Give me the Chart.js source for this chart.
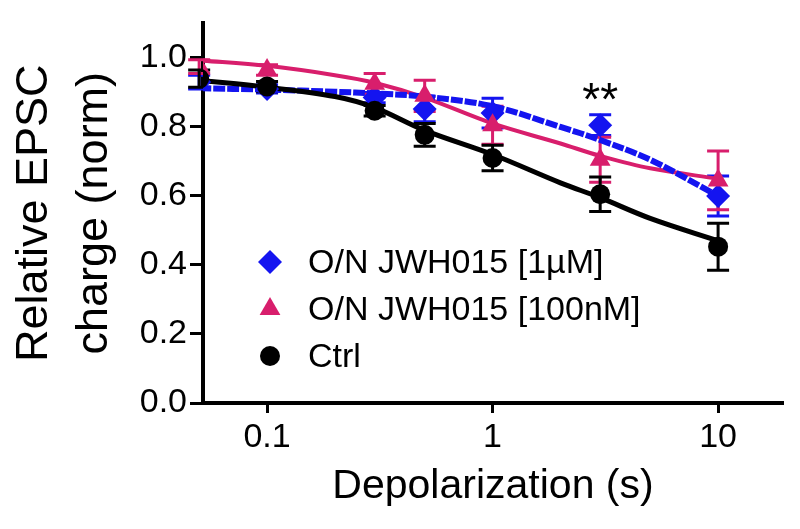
<!DOCTYPE html>
<html>
<head>
<meta charset="utf-8">
<script src="https://cdn.jsdelivr.net/npm/chart.js@4.4.1/dist/chart.umd.min.js"></script>
<style>
  html, body { margin: 0; padding: 0; background: #fff; }
  #wrap { width: 800px; height: 529px; }
</style>
</head>
<body>
<div id="wrap"><canvas id="chart"></canvas></div>
<script>
// depolarization steps (s)
const depolTimes = [0.05, 0.1, 0.3, 0.5, 1, 3, 10];

// mean +/- error
const jwh1uM = [0.93, 0.91, 0.885, 0.852, 0.84, 0.805, 0.60];
const jwh1uMErr = [0.02, 0.012, 0.015, 0.037, 0.043, 0.03, 0.058];
const jwh100nM = [0.975, 0.965, 0.925, 0.89, 0.805, 0.705, 0.645];
const jwh100nMErr = [0.02, 0.015, 0.03, 0.045, 0.055, 0.065, 0.085];
const ctrl = [0.94, 0.917, 0.847, 0.777, 0.71, 0.605, 0.453];
const ctrlErr = [0.025, 0.015, 0.015, 0.033, 0.037, 0.05, 0.068];

// fitted curves, sampled from the figure
const curveX = [0.05, 0.1, 0.2, 0.3, 0.5, 1, 2, 3, 5, 10];
const fit1uM = [0.912, 0.908, 0.902, 0.897, 0.888, 0.86, 0.80, 0.762, 0.705, 0.60];
const fit100nM = [0.993, 0.977, 0.95, 0.928, 0.885, 0.81, 0.752, 0.716, 0.68, 0.65];
const fitCtrl = [0.935, 0.915, 0.888, 0.856, 0.79, 0.72, 0.638, 0.595, 0.535, 0.47];

const xTicks = [0.1, 1, 10];
const yTicks = [0, 0.2, 0.4, 0.6, 0.8, 1.0];

const legendLabels = ['O/N JWH015 [1µM]', 'O/N JWH015 [100nM]', 'Ctrl'];
const sigMark = { x: 3, y: 0.9, text: '**' };

const BLUE = '#1414f0';
const MAGENTA = '#d81e6c';
const BLACK = '#000000';
const FONT = 'Liberation Sans, Arial, sans-serif';

const pts = (xs, ys) => xs.map((x, i) => ({ x: x, y: ys[i] }));

function pointSet(label, ys, errs, color, style, radius, order) {
    return {
        type: 'scatter',
        label: label,
        data: pts(depolTimes, ys),
        errors: errs,
        backgroundColor: color,
        borderColor: color,
        borderWidth: 0,
        pointStyle: style,
        pointRadius: radius,
        order: order
    };
}

function curveSet(ys, color, width, dash, order) {
    return {
        type: 'line',
        data: pts(curveX, ys),
        borderColor: color,
        borderWidth: width,
        borderDash: dash,
        pointRadius: 0,
        showLine: true,
        fill: false,
        tension: 0.35,
        order: order
    };
}

const errorBars = {
    id: 'errorBars',
    beforeDatasetsDraw(chart) {
        const ctx = chart.ctx;
        const xs = chart.scales.x, ys = chart.scales.y;
        ctx.save();
        chart.data.datasets.forEach(ds => {
            if (!ds.errors) return;
            ctx.strokeStyle = ds.borderColor;
            ctx.lineWidth = 3;
            ds.data.forEach((p, i) => {
                const px = xs.getPixelForValue(p.x);
                const top = ys.getPixelForValue(p.y + ds.errors[i]);
                const bot = ys.getPixelForValue(p.y - ds.errors[i]);
                ctx.beginPath();
                ctx.moveTo(px, top); ctx.lineTo(px, bot);
                ctx.moveTo(px - 11, top); ctx.lineTo(px + 11, top);
                ctx.moveTo(px - 11, bot); ctx.lineTo(px + 11, bot);
                ctx.stroke();
            });
        });
        ctx.restore();
    }
};

const overlay = {
    id: 'overlay',
    afterDraw(chart) {
        const ctx = chart.ctx;
        const xs = chart.scales.x, ys = chart.scales.y;
        ctx.save();
        // significance mark
        ctx.fillStyle = BLACK;
        ctx.font = '46px ' + FONT;
        ctx.textAlign = 'center';
        ctx.textBaseline = 'middle';
        ctx.fillText(sigMark.text, xs.getPixelForValue(sigMark.x), ys.getPixelForValue(sigMark.y) + 10);

        // legend inside the plot
        const markers = [
            { style: 'rectRot', color: BLUE, r: 12 },
            { style: 'triangle', color: MAGENTA, r: 12 },
            { style: 'circle', color: BLACK, r: 10 }
        ];
        ctx.font = '34px ' + FONT;
        ctx.textAlign = 'left';
        legendLabels.forEach((txt, i) => {
            const y = 262 + i * 47;
            ctx.fillStyle = markers[i].color;
            Chart.helpers.drawPoint(ctx, { pointStyle: markers[i].style, radius: markers[i].r, rotation: 0, borderWidth: 0 }, 270, y);
            ctx.fillStyle = BLACK;
            ctx.fillText(txt, 308, y + 2);
        });
        ctx.restore();
    }
};

new Chart(document.getElementById('chart'), {
    type: 'scatter',
    data: {
        datasets: [
            pointSet(legendLabels[0], jwh1uM, jwh1uMErr, BLUE, 'rectRot', 12, 3),
            pointSet(legendLabels[1], jwh100nM, jwh100nMErr, MAGENTA, 'triangle', 12, 2),
            pointSet(legendLabels[2], ctrl, ctrlErr, BLACK, 'circle', 10, 1),
            curveSet(fit100nM, MAGENTA, 4, [], 12),
            curveSet(fit1uM, BLUE, 6, [12, 2], 11),
            curveSet(fitCtrl, BLACK, 5, [], 10)
        ]
    },
    options: {
        responsive: true,
        maintainAspectRatio: false,
        animation: false,
        layout: { padding: { top: 15, right: 17, left: 0, bottom: 0 } },
        plugins: {
            legend: { display: false },
            tooltip: { enabled: false }
        },
        scales: {
            x: {
                type: 'logarithmic',
                min: 0.052,
                max: 19.4,
                afterBuildTicks: scale => { scale.ticks = xTicks.map(v => ({ value: v })); },
                afterFit: scale => { scale.height = 126; },
                ticks: {
                    color: BLACK,
                    font: { family: FONT, size: 34 },
                    padding: 4,
                    maxRotation: 0,
                    autoSkip: false,
                    callback: v => String(v)
                },
                grid: { drawOnChartArea: false, drawTicks: true, tickLength: 10, tickWidth: 3, tickColor: BLACK },
                border: { display: true, width: 4, color: BLACK },
                title: {
                    display: true,
                    text: 'Depolarization (s)',
                    color: BLACK,
                    font: { family: FONT, size: 41 },
                    padding: { top: 0, bottom: 18 }
                }
            },
            y: {
                min: 0,
                max: 1.1,
                afterBuildTicks: scale => { scale.ticks = yTicks.map(v => ({ value: v })); },
                afterFit: scale => { scale.width = 203; },
                ticks: {
                    color: BLACK,
                    font: { family: FONT, size: 34 },
                    padding: 3,
                    callback: v => v.toFixed(1)
                },
                grid: { drawOnChartArea: false, drawTicks: true, tickLength: 13, tickWidth: 3, tickColor: BLACK },
                border: { display: true, width: 4, color: BLACK },
                title: {
                    display: true,
                    text: ['Relative EPSC', 'charge (norm)'],
                    color: BLACK,
                    font: { family: FONT, size: 45, lineHeight: 1.33 },
                    padding: { top: 5, bottom: 0 }
                }
            }
        }
    },
    plugins: [errorBars, overlay]
});
</script>
</body>
</html>
